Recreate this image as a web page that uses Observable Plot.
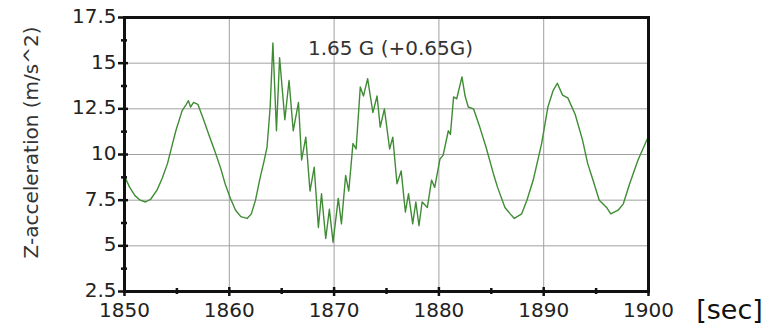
<!DOCTYPE html>
<html>
<head>
<meta charset="utf-8">
<script src="https://cdn.jsdelivr.net/npm/d3@7"></script>
<script src="https://cdn.jsdelivr.net/npm/@observablehq/plot@0.6"></script>
<style>
  html, body { margin: 0; padding: 0; background: #fff; }
  #chart svg { display: block; }
</style>
</head>
<body>
<div id="chart"></div>
<script>
// Time in seconds
const time = [
  1850.0, 1850.5, 1851.0, 1851.5, 1852.0, 1852.5, 1853.1, 1853.6, 1854.1, 1854.5,
  1854.9, 1855.5, 1855.9, 1856.1, 1856.3, 1856.6, 1857.0, 1857.55, 1858.1, 1858.7,
  1859.2, 1859.6, 1860.1, 1860.6, 1861.1, 1861.7, 1862.1, 1862.5, 1862.95, 1863.3,
  1863.6, 1863.9, 1864.16, 1864.5, 1864.8, 1865.3, 1865.7, 1866.1, 1866.6, 1866.9,
  1867.3, 1867.7, 1868.1, 1868.5, 1868.8, 1869.2, 1869.55, 1869.9, 1870.4, 1870.7,
  1871.1, 1871.4, 1871.8, 1872.1, 1872.5, 1872.8, 1873.2, 1873.7, 1874.1, 1874.4,
  1874.8, 1875.3, 1875.6, 1876.0, 1876.4, 1876.8, 1877.1, 1877.5, 1877.8, 1878.1,
  1878.4, 1878.9, 1879.3, 1879.6, 1880.1, 1880.4, 1880.9, 1881.1, 1881.4, 1881.7,
  1882.2, 1882.5, 1882.8, 1883.3, 1883.9, 1884.5, 1885.2, 1885.6, 1886.3, 1886.8,
  1887.2, 1887.9, 1888.4, 1889.0, 1889.8, 1890.4, 1890.9, 1891.3, 1891.8, 1892.3,
  1893.0, 1893.7, 1894.2, 1894.7, 1895.3, 1896.0, 1896.4, 1897.1, 1897.6, 1898.2,
  1899.0, 1900.0
];
// Z-acceleration (m/s^2)
const accel = [
  8.8, 8.2, 7.75, 7.5, 7.4, 7.55, 8.05, 8.7, 9.5, 10.4,
  11.3, 12.4, 12.75, 12.95, 12.6, 12.85, 12.75, 11.9, 11.0, 10.05,
  9.2, 8.4, 7.6, 6.95, 6.6, 6.5, 6.75, 7.5, 8.75, 9.6,
  10.4, 12.6, 16.1, 11.3, 15.3, 11.9, 14.05, 11.3, 12.85, 9.7,
  10.95, 8.0, 9.3, 6.0, 7.85, 5.4, 7.0, 5.2, 7.6, 6.2,
  8.85, 8.0, 10.6, 10.3, 13.7, 13.2, 14.15, 12.3, 13.2, 11.5,
  12.5, 10.3, 10.95, 8.4, 9.1, 6.85, 7.85, 6.2, 7.4, 6.1,
  7.4, 7.1, 8.6, 8.2, 9.75, 9.95, 11.3, 11.1, 13.15, 13.05,
  14.25, 13.2, 12.6, 12.5, 11.5, 10.4, 8.95, 8.2, 7.1, 6.75,
  6.5, 6.75, 7.5, 8.6, 10.6, 12.6, 13.5, 13.9, 13.25, 13.1,
  12.2, 10.8, 9.5, 8.6, 7.5, 7.1, 6.75, 6.95, 7.3, 8.4,
  9.7, 11.0
];
const xTicks = [1850, 1860, 1870, 1880, 1890, 1900];
const xMinor = [1855, 1865, 1875, 1885, 1895];
const yTicks = [2.5, 5, 7.5, 10, 12.5, 15, 17.5];
const yMinor = [3.75, 6.25, 8.75, 11.25, 13.75, 16.25];
const yLabel = "Z-acceleration (m/s^2)";
const title = "1.65 G (+0.65G)";
const unitLabel = "[sec]";

const data = time.map((t, i) => ({t, a: accel[i]}));
const blank = () => "";
const plain = d => String(d);

const chart = Plot.plot({
  width: 780,
  height: 329,
  marginLeft: 124,
  marginRight: 132,
  marginTop: 17,
  marginBottom: 38,
  x: {domain: [1850, 1900]},
  y: {domain: [2.5, 17.5]},
  style: {fontFamily: "'DejaVu Sans', sans-serif", fontSize: "20px", color: "#222", background: "#fff"},
  marks: [
    Plot.gridX(xTicks.slice(1, -1), {stroke: "#a0a0a0", strokeOpacity: 1, strokeWidth: 1}),
    Plot.gridY(yTicks.slice(1, -1), {stroke: "#a0a0a0", strokeOpacity: 1, strokeWidth: 1}),
    Plot.line(data, {x: "t", y: "a", stroke: "#3f8c34", strokeWidth: 1.4, clip: true}),
    Plot.frame({stroke: "#111", strokeWidth: 3}),
    // y axis ticks (crossing the axis)
    Plot.axisY(yTicks, {tickSize: 10, dx: 4, tickFormat: blank, label: null, strokeWidth: 2.5, stroke: "#111"}),
    Plot.axisY(yMinor, {tickSize: 6, dx: 3, tickFormat: blank, label: null, strokeWidth: 2.5, stroke: "#111"}),
    Plot.axisY(yTicks, {tickSize: 0, tickPadding: 8, dy: -1, label: null, tickFormat: plain, fontSize: 20, fill: "#222"}),
    // x axis ticks (crossing the axis)
    Plot.axisX(xTicks, {tickSize: 9, dy: -4, tickFormat: blank, label: null, strokeWidth: 2.5, stroke: "#111"}),
    Plot.axisX(xMinor, {tickSize: 6, dy: -3, tickFormat: blank, label: null, strokeWidth: 2.5, stroke: "#111"}),
    Plot.axisX(xTicks, {tickSize: 0, tickPadding: 11, label: null, tickFormat: plain, fontSize: 20, fill: "#222"}),
    Plot.text([yLabel], {frameAnchor: "left", textAnchor: "middle", rotate: -90, dx: -93, dy: -12, fontSize: 20, fill: "#333"}),
    Plot.text([title], {frameAnchor: "top", lineAnchor: "middle", dx: 4, dy: 31, fontSize: 20, fill: "#333"}),
    Plot.text([unitLabel], {frameAnchor: "bottom-right", lineAnchor: "middle", textAnchor: "middle", dx: 81, dy: 19, fontSize: 27, fill: "#111"})
  ]
});
document.getElementById("chart").appendChild(chart);
</script>
</body>
</html>
